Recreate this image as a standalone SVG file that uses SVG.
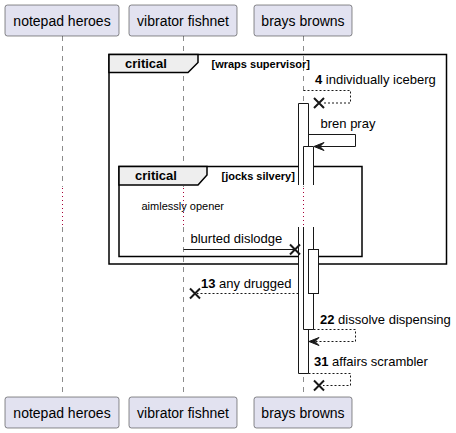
<svg xmlns="http://www.w3.org/2000/svg" width="456" height="433" viewBox="0 0 456 433">
<defs>
<style>
.pbox{fill:#E2E2F0;stroke:#181818;stroke-width:0.5}
.ptxt{font-family:"Liberation Sans",Arial,sans-serif;font-size:14px;fill:#000;text-anchor:middle}
.life{stroke:#181818;stroke-width:0.5;stroke-dasharray:5,5;fill:none}
.delay{stroke:#A80036;stroke-width:1;stroke-dasharray:1,3;fill:none}
.frame{fill:none;stroke:#000;stroke-width:1.5}
.tab{fill:#EEEEEE;stroke:#000;stroke-width:1.5}
.gtitle{font-family:"Liberation Sans",Arial,sans-serif;font-size:13px;font-weight:bold;fill:#000}
.gcond{font-family:"Liberation Sans",Arial,sans-serif;font-size:11px;font-weight:bold;fill:#000}
.bar{fill:#FFFFFF;stroke:#181818;stroke-width:1}
.msg{fill:none;stroke:#181818;stroke-width:1}
.dash{stroke-dasharray:2,2}
.mtxt{font-family:"Liberation Sans",Arial,sans-serif;font-size:13px;fill:#000}
.num{font-weight:bold}
.x{stroke:#181818;stroke-width:2;fill:none}
.head{fill:#181818;stroke:#181818;stroke-width:1}
.dtxt{font-family:"Liberation Sans",Arial,sans-serif;font-size:11px;fill:#000}
</style>
</defs>

<g id="lifelines">
<path class="life" d="M62.5,36 V187 M62.5,227 V397"/>
<path class="life" d="M183.5,36 V187 M183.5,227 V397"/>
<path class="life" d="M303.5,36 V187 M303.5,227 V397"/>
<path class="delay" d="M62.5,188 V226 M183.5,188 V226 M303.5,188 V226"/>
</g>

<g id="group-outer">
<rect class="frame" x="109" y="54.5" width="337.5" height="209.5"/>
<path class="tab" d="M109,54.5 H198 V62.5 L188,72.5 H109 Z"/>
<text class="gtitle" x="125" y="68">critical</text>
<text class="gcond" x="211.5" y="67.5">[wraps supervisor]</text>
</g>

<g id="group-inner">
<rect class="frame" x="119" y="166.5" width="243" height="90"/>
<path class="tab" d="M119,166.5 H207 V175 L198,185 H119 Z"/>
<text class="gtitle" x="135" y="180">critical</text>
<text class="gcond" x="221.5" y="180">[jocks silvery]</text>
</g>

<g id="activations">
<path class="bar" d="M298.5,185 V103.5 H308.5 V185"/>
<path class="bar" d="M298.5,227 V373.5 H308.5 V227"/>
<path class="bar" d="M303.5,185 V146.5 H313.5 V185"/>
<path class="bar" d="M303.5,227 V329.5 H313.5 V227"/>
<rect class="bar" x="308.5" y="249.5" width="10" height="44"/>
</g>

<g id="connectors">
<g id="m4">
<path class="msg dash" d="M303.5,90.5 H350.5 V103 H323"/>
<path class="x" d="M314,98 L324,108 M324,98 L314,108"/>
<text class="mtxt" x="315" y="84"><tspan class="num">4</tspan> individually iceberg</text>
</g>
<g id="m-bren">
<path class="msg" d="M308.5,134.5 H355.5 V146.5 H315"/>
<polygon class="head" points="314,146.5 324,142.5 320,146.5 324,150.5"/>
<text class="mtxt" x="320.5" y="128">bren pray</text>
</g>
<text class="dtxt" x="141.5" y="210">aimlessly opener</text>
<g id="m-blurted">
<path class="msg" d="M183.5,249.5 H294"/>
<path class="x" d="M290,244.5 L300,254.5 M300,244.5 L290,254.5"/>
<text class="mtxt" x="190.5" y="243">blurted dislodge</text>
</g>
<g id="m13">
<path class="msg dash" d="M298.5,293.5 H197"/>
<path class="x" d="M190,288.5 L200,298.5 M200,288.5 L190,298.5"/>
<text class="mtxt" x="201" y="288"><tspan class="num">13</tspan> any drugged</text>
</g>
<g id="m22">
<path class="msg dash" d="M313.5,329.5 H355.5 V341.5 H310"/>
<polygon class="head" points="309,341.5 319,337.5 315,341.5 319,345.5"/>
<text class="mtxt" x="320" y="324"><tspan class="num">22</tspan> dissolve dispensing</text>
</g>
<g id="m31">
<path class="msg dash" d="M308.5,373.5 H350.5 V385.5 H323"/>
<path class="x" d="M314,380.5 L324,390.5 M324,380.5 L314,390.5"/>
<text class="mtxt" x="314" y="366"><tspan class="num">31</tspan> affairs scrambler</text>
</g>
</g>

<g id="p-notepad-top"><rect class="pbox" x="5" y="5" width="114" height="31" rx="2.5"/><text class="ptxt" x="62" y="25.5">notepad heroes</text></g>
<g id="p-vibrator-top"><rect class="pbox" x="129" y="5" width="108" height="31" rx="2.5"/><text class="ptxt" x="183" y="25.5">vibrator fishnet</text></g>
<g id="p-brays-top"><rect class="pbox" x="254" y="5" width="98" height="31" rx="2.5"/><text class="ptxt" x="303" y="25.5">brays browns</text></g>
<g id="p-notepad-bottom"><rect class="pbox" x="5" y="397" width="114" height="31" rx="2.5"/><text class="ptxt" x="62" y="417.5">notepad heroes</text></g>
<g id="p-vibrator-bottom"><rect class="pbox" x="129" y="397" width="108" height="31" rx="2.5"/><text class="ptxt" x="183" y="417.5">vibrator fishnet</text></g>
<g id="p-brays-bottom"><rect class="pbox" x="254" y="397" width="98" height="31" rx="2.5"/><text class="ptxt" x="303" y="417.5">brays browns</text></g>
</svg>
